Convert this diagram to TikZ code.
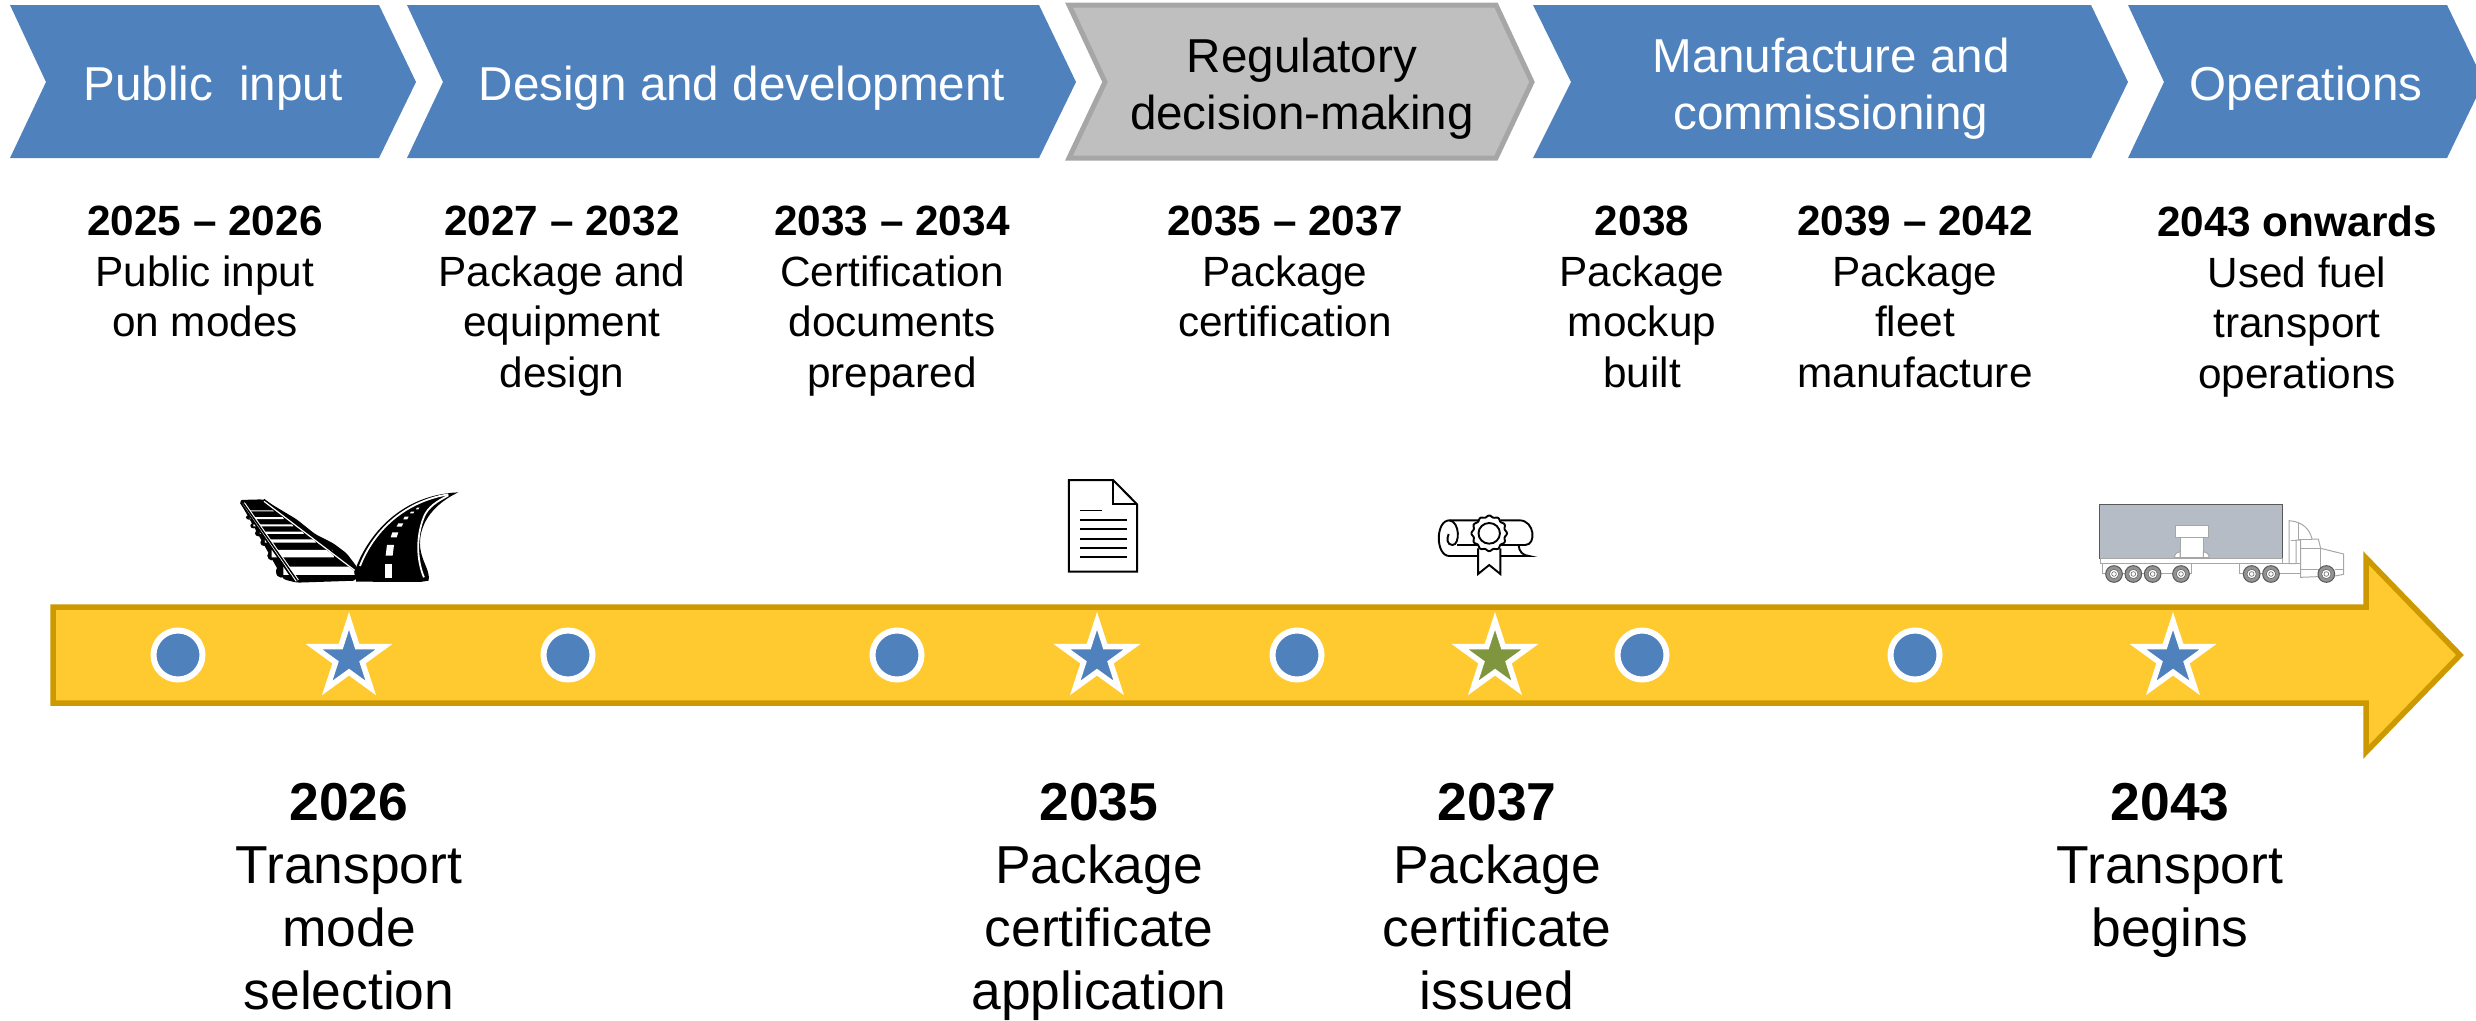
\documentclass[tikz,border=0pt]{standalone}
\usepackage{fontspec}
\setmainfont{Liberation Sans}
\usetikzlibrary{shapes.geometric}
\definecolor{cblue}{HTML}{4F81BD}
\definecolor{cgrey}{HTML}{BFBFBF}
\definecolor{cgreyd}{HTML}{A6A6A6}
\definecolor{cyel}{HTML}{FFCA2F}
\definecolor{cyeld}{HTML}{CC9900}
\definecolor{cgreen}{HTML}{7F963F}
\definecolor{ctruck}{HTML}{B6BCC5}
\definecolor{cline}{HTML}{A6A6A6}
\newcommand{\fsz}[2]{\fontsize{#1}{#2}\selectfont}
\tikzset{x=1pt,y=-1pt,
  head/.style={align=center,inner sep=0,font=\fsz{47.6}{57}},
  mid/.style={align=center,anchor=north,inner sep=0,font=\fsz{42.3}{50.5}},
  low/.style={align=center,anchor=north,inner sep=0,font=\fsz{53.4}{63}},
  dotm/.style={circle,fill=cblue,draw=white,line width=6pt,minimum size=49pt,inner sep=0},
  starm/.style={star,star points=5,star point ratio=2.618,fill=#1,draw=white,line width=5.5pt,minimum size=74pt,inner sep=0,outer sep=0},
  chev/.style={fill=cblue},
  tline/.style={draw=cline,line width=1pt,fill=white}}
\begin{document}
\begin{tikzpicture}
\useasboundingbox (0,0) rectangle (2476,1020);
% chevrons
\fill[chev] (10,5)--(379,5)--(416,82)--(379,158)--(10,158)--(46,82)--cycle;
\fill[chev] (407,5)--(1039,5)--(1076,82)--(1039,158)--(407,158)--(443,82)--cycle;
\draw[fill=cgrey,draw=cgreyd,line width=5pt] (1069,5)--(1496,5)--(1532,82)--(1496,158)--(1069,158)--(1105,82)--cycle;
\fill[chev] (1533,5)--(2091,5)--(2128,82)--(2091,158)--(1533,158)--(1571,82)--cycle;
\fill[chev] (2128,5)--(2447,5)--(2476,65)--(2476,98)--(2447,158)--(2128,158)--(2164,82)--cycle;
\node[head,text=white] (h1) at (213,88.5) {Public\ \ input};
\node[head,text=white] (h2) at (742,88.5) {Design and development};
\node[head,text=black] (h3) at (1302,88.5) {Regulatory\\decision-making};
\node[head,text=white] (h4) at (1831,88.5) {Manufacture and\\commissioning};
\node[head,text=white] (h5) at (2306,88.5) {Operations};
% middle
\node[mid] (m1) at (205,206) {\textbf{2025 – 2026}\\Public input\\on modes};
\node[mid] (m2) at (562,206) {\textbf{2027 – 2032}\\Package and\\equipment\\design};
\node[mid] (m3) at (892,206) {\textbf{2033 – 2034}\\Certification\\documents\\prepared};
\node[mid] (m4) at (1285,206) {\textbf{2035 – 2037}\\Package\\certification};
\node[mid] (m5) at (1642,206) {\textbf{2038}\\Package\\mockup\\built};
\node[mid] (m6) at (1915,206) {\textbf{2039 – 2042}\\Package\\fleet\\manufacture};
\node[mid] (m7) at (2297,206) {\textbf{2043 onwards}\\Used fuel\\transport\\operations};
% timeline arrow
\draw[fill=cyel,draw=cyeld,line width=5.5pt,line join=miter] (53,607)--(2366,607)--(2366,558)--(2460,655)--(2366,752)--(2366,703)--(53,703)--cycle;
% markers
\foreach \n/\xx in {c1/178,c2/568,c3/897,c4/1297,c5/1642,c6/1915}
  \node[dotm] (\n) at (\xx,655) {};
\node[starm=cblue] (s1) at (349,658) {};
\node[starm=cblue] (s2) at (1097,658) {};
\node[starm=cgreen] (s3) at (1495,658) {};
\node[starm=cblue] (s4) at (2173,658) {};
% lower
\node[low] (l1) at (349,783) {\textbf{2026}\\Transport\\mode\\selection};
\node[low] (l2) at (1099,783) {\textbf{2035}\\Package\\certificate\\application};
\node[low] (l3) at (1497,783) {\textbf{2037}\\Package\\certificate\\issued};
\node[low] (l4) at (2170,783) {\textbf{2043}\\Transport\\begins};
% rail icon (zoom coordinates, 3x from 200,460)
\begin{scope}[shift={(200,460)},x=0.3333pt,y=-0.3333pt]
  \fill[black,rounded corners=3pt] (118,120)--(190,118)--(290,178)--(345,222)--(400,250)--(440,280)--(474,325)--(468,362)--(290,368)--(250,358)--(125,135)--cycle;
  \foreach \bx/\by/\ea/\eb in {147/172/9/7,160/197/9/8,175/220/10/9,192/248/11/10,215/287/13/14,243/335/15/18}
    \fill[black] (\bx,\by) ellipse [x radius=\ea, y radius=\eb];
  \foreach \ya/\yb/\xa/\xb in {151/154/150/218,171/177/150/248,193/199/160/276,215/222/180/308,238/248/195/344,270/292/215/398,320/345/250/460}{
    \fill[white] (\xa,\ya)--(\xb,\ya)--(\xb+4,\yb)--(\xa,\yb)--cycle;}
  \draw[black,line width=.8pt] (235,305)--(420,305);
  \draw[white,line width=3.6pt] (130,130)--(292,362);
  \draw[black,line width=1.4pt] (130,130)--(292,362);
  \draw[black,line width=1.6pt] (122,128)--(275,352);
  \draw[black,line width=3pt] (190,120)--(470,332);
  \draw[white,line width=1.2pt] (192,124)--(464,331);
  % road
  \fill[black] (468,365)--(470,318) .. controls (500,240) and (590,105) .. (775,97) .. controls (705,130) and (660,185) .. (660,250) .. controls (660,300) and (692,330) .. (686,362)--(660,366)--cycle;
  \draw[white,line width=1.8pt] (480,318) .. controls (520,215) and (610,125) .. (745,103);
  \draw[white,line width=1.8pt] (672,352) .. controls (650,300) and (648,230) .. (672,170) .. controls (685,140) and (710,125) .. (745,106);
  \foreach \a/\b/\w/\h/\s in {554/355/21/42/0,557/287/21/32/4,572/232/18/15/5,590/200/15/10/5,610/178/12/8/4,630/160/10/5/3,648/148/7/5/3}{
    \fill[white] (\a,\b)--(\a+\w,\b)--(\a+\w+\s,\b-\h)--(\a+\s,\b-\h)--cycle;}
\end{scope}
% document icon
\begin{scope}[shift={(1020,460)},x=0.3827pt,y=-0.3333pt]
  \draw[black,line width=2pt,fill=white,line join=miter] (128,60)--(243,60)--(306,133)--(306,335)--(128,335)--cycle;
  \draw[black,line width=2pt] (243,60)--(243,133)--(306,133);
  \draw[black,line width=1.6pt] (157,152)--(215,152);
  \foreach \yy in {181,208,236,265,292} \draw[black,line width=2.2pt] (157,\yy)--(280,\yy);
\end{scope}
% diploma icon
\begin{scope}[shift={(1020,460)},x=0.3827pt,y=-0.3333pt,line width=1.9pt]
  \draw[black] (1197,181)--(1122,181) .. controls (1085,181) and (1085,288) .. (1122,288)--(1197,288);
  \draw[black] (1122,181) .. controls (1150,185) and (1150,255) .. (1130,255) .. controls (1115,255) and (1115,235) .. (1120,222);
  \draw[black] (1143,255)--(1197,255);
  \draw[black] (1255,181)--(1305,181) .. controls (1345,181) and (1350,255) .. (1320,255)--(1255,255);
  \draw[black] (1303,255) .. controls (1303,275) and (1315,287) .. (1330,288)--(1255,288);
  \draw[black,fill=white] (1197,265)--(1197,342)--(1226,315)--(1255,342)--(1255,265);
  \draw[black,fill=white] plot[domain=0:360,samples=96,smooth cycle] ({1226+(44+2.5*cos(12*\x))*cos(\x)},{220+(51+2.5*cos(12*\x))*sin(\x)});
  \draw[black] (1226,220) ellipse (28 and 31);
\end{scope}
% truck icon
\begin{scope}[shift={(2040,480)},x=0.3333pt,y=-0.3333pt]
  \draw[fill=ctruck,draw=black!65,line width=1pt] (178,73) rectangle (727,236);
  \draw[tline] (405,137) rectangle (505,173);
  \draw[tline] (420,173) rectangle (490,233);
  \draw[tline] (403,233) .. controls (405,220) and (412,215) .. (420,215)--(420,233)--cycle;
  \draw[tline] (508,233) .. controls (506,220) and (498,215) .. (490,215)--(490,233)--cycle;
  \draw[tline] (180,236)--(727,236)--(727,251)--(180,251)--cycle;
  \draw[draw=cline,line width=1pt] (187,251)--(187,282) (455,251)--(455,282)--(187,282);
  \draw[draw=cline,line width=1pt] (597,251)--(597,282)--(780,282) (597,251)--(780,251);
  \draw[tline] (747,122) .. controls (790,125) and (810,150) .. (816,177)--(835,177)--(842,205)--(911,222)--(911,283)--(885,288)--(782,292)--(782,180)--(768,180)--(768,251)--(747,251)--cycle;
  \draw[draw=cline,line width=1pt] (776,130)--(776,177)--(816,177) (782,205)--(842,205)--(842,292) (782,268)--(842,268) (885,268)--(911,268) (753,180)--(768,180);
  \foreach \xx in {222,280,338,423,635,693,859}{
    \fill[gray!85,draw=black!65,line width=1pt] (\xx,282) circle (25);
    \fill[white,draw=black!60,line width=.6pt] (\xx,282) circle (14);
    \draw[black!60,line width=.6pt] (\xx,282) circle (7);
  }
\end{scope}
\end{tikzpicture}
\end{document}
